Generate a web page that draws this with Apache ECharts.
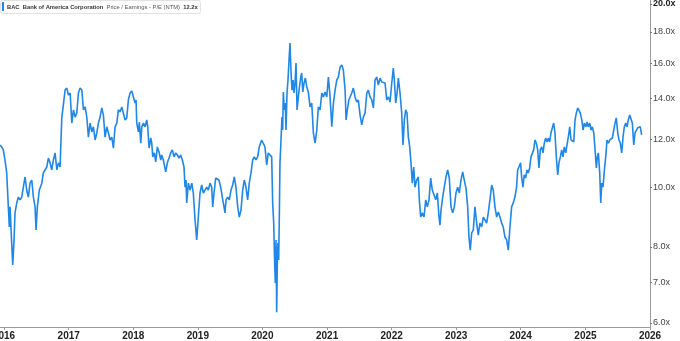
<!DOCTYPE html>
<html>
<head>
<meta charset="utf-8">
<script src="https://cdn.jsdelivr.net/npm/echarts@6/dist/echarts.min.js"></script>
<style>html,body{margin:0;padding:0;background:#fff}#c{width:680px;height:341px}</style>
</head>
<body>
<div id="c"></div>
<script>
// Fractional-year positions of each observation
const years = [
2015.938,2015.964,2015.989,2016.015,2016.042,2016.067,2016.082,2016.093,2016.119,2016.135,2016.155,2016.170,2016.197,2016.221,2016.248,2016.274,2016.299,2016.325,2016.351,2016.376,2016.402,2016.429,2016.454,2016.480,2016.495,2016.515,2016.546,2016.584,2016.608,2016.661,2016.686,2016.712,2016.738,2016.763,2016.789,2016.816,2016.841,2016.867,2016.882,2016.893,2016.918,2016.944,2016.971,2016.995,
2017.022,2017.048,2017.073,2017.099,2017.125,2017.150,2017.176,2017.203,2017.228,2017.254,2017.280,2017.305,2017.331,2017.358,2017.382,2017.409,2017.435,2017.460,2017.486,2017.512,2017.537,2017.563,2017.590,2017.615,2017.641,2017.667,2017.692,2017.718,2017.745,2017.769,2017.796,2017.822,2017.847,2017.873,2017.899,2017.924,2017.950,2017.977,
2018.002,2018.028,2018.043,2018.054,2018.079,2018.094,2018.116,2018.132,2018.156,2018.183,2018.209,2018.224,2018.245,2018.271,2018.286,2018.302,2018.327,2018.348,2018.373,2018.399,2018.426,2018.441,2018.466,2018.503,2018.528,2018.554,2018.580,2018.605,2018.632,2018.658,2018.683,2018.709,2018.735,2018.760,2018.786,2018.802,2018.817,2018.828,2018.853,2018.879,2018.906,2018.930,2018.957,2018.983,
2019.008,2019.034,2019.060,2019.085,2019.111,2019.138,2019.163,2019.189,2019.215,2019.231,2019.251,2019.277,2019.302,2019.328,2019.354,2019.379,2019.406,2019.421,2019.437,2019.463,2019.488,2019.514,2019.540,2019.565,2019.591,2019.618,2019.642,2019.669,2019.695,2019.720,2019.746,2019.772,2019.797,2019.824,2019.850,2019.875,2019.901,2019.927,2019.952,2019.989,
2020.014,2020.040,2020.067,2020.091,2020.118,2020.144,2020.159,2020.175,2020.190,2020.200,2020.211,2020.221,2020.231,2020.241,2020.252,2020.262,2020.272,2020.288,2020.303,2020.314,2020.324,2020.339,2020.354,2020.365,2020.381,2020.396,2020.412,2020.427,2020.443,2020.458,2020.474,2020.489,2020.505,2020.520,2020.536,2020.556,2020.571,2020.593,2020.608,2020.624,2020.644,2020.664,2020.686,2020.710,2020.737,2020.763,2020.788,2020.814,2020.841,2020.865,2020.892,2020.918,2020.943,2020.969,2020.995,
2021.020,2021.046,2021.073,2021.098,2021.124,2021.150,2021.175,2021.201,2021.228,2021.252,2021.279,2021.294,2021.314,2021.336,2021.356,2021.382,2021.407,2021.433,2021.460,2021.484,2021.511,2021.537,2021.562,2021.588,2021.615,2021.639,2021.666,2021.692,2021.717,2021.743,2021.769,2021.794,2021.820,2021.847,2021.871,2021.898,2021.924,2021.949,2021.975,
2022.002,2022.026,2022.042,2022.063,2022.084,2022.104,2022.130,2022.156,2022.176,2022.197,2022.218,2022.238,2022.259,2022.280,2022.300,2022.320,2022.342,2022.362,2022.388,2022.413,2022.429,2022.450,2022.475,2022.502,2022.528,2022.553,2022.579,2022.605,2022.630,2022.656,2022.683,2022.708,2022.734,2022.749,2022.765,2022.791,2022.816,2022.842,2022.868,2022.893,2022.920,2022.946,2022.971,2022.997,
2023.023,2023.048,2023.074,2023.101,2023.125,2023.152,2023.178,2023.198,2023.218,2023.240,2023.265,2023.291,2023.317,2023.342,2023.368,2023.395,2023.420,2023.446,2023.472,2023.497,2023.523,2023.550,2023.574,2023.601,2023.627,2023.652,2023.678,2023.704,2023.729,2023.755,2023.782,2023.807,2023.833,2023.859,2023.884,2023.910,2023.936,2023.952,2023.972,2023.998,
2024.014,2024.034,2024.054,2024.076,2024.096,2024.116,2024.138,2024.158,2024.178,2024.200,2024.220,2024.240,2024.262,2024.282,2024.302,2024.324,2024.344,2024.364,2024.385,2024.406,2024.426,2024.447,2024.467,2024.488,2024.509,2024.529,2024.550,2024.571,2024.591,2024.612,2024.633,2024.653,2024.673,2024.695,2024.715,2024.735,2024.757,2024.777,2024.797,2024.819,2024.839,2024.859,2024.881,2024.901,2024.921,2024.943,2024.963,2024.983,
2025.005,2025.025,2025.045,2025.067,2025.087,2025.107,2025.129,2025.149,2025.169,2025.184,2025.200,2025.221,2025.237,2025.252,2025.272,2025.293,2025.314,2025.334,2025.355,2025.376,2025.396,2025.416,2025.438,2025.458,2025.478,2025.500,2025.520,2025.540,2025.562,2025.582,2025.602,2025.624,2025.644,2025.664,2025.686,2025.706,2025.726,2025.748,2025.768,2025.788,2025.810,2025.830,2025.850,2025.870
];
// Price / Earnings - P/E (NTM)
const pe = [
11.75,11.66,11.53,11.10,10.57,9.30,8.62,9.30,8.11,7.47,8.21,9.09,9.44,9.65,9.55,9.65,10.02,10.41,9.91,9.65,10.17,10.29,9.65,9.30,8.52,9.30,9.91,10.17,10.57,10.81,11.18,10.98,10.69,11.10,11.40,10.69,10.98,10.81,12.10,13.01,13.05,14.45,14.56,14.18,
14.29,12.76,13.41,13.05,13.25,14.29,14.56,14.45,13.41,13.56,13.05,12.10,12.76,12.34,12.58,11.97,12.29,12.76,13.05,13.51,13.15,12.10,12.58,12.29,11.97,12.10,11.61,12.58,12.76,13.41,13.30,13.56,13.51,12.91,13.01,13.92,14.29,14.40,
14.35,13.76,13.92,12.76,12.34,12.81,11.83,12.58,12.76,12.58,12.91,12.58,11.61,12.06,11.83,11.23,11.40,11.02,11.66,11.44,11.10,11.31,11.10,10.61,10.98,11.18,11.40,11.53,11.23,11.40,11.31,11.18,11.31,11.10,10.81,10.02,10.29,9.44,10.17,9.91,10.17,9.80,8.85,8.21,
8.95,9.80,10.10,9.80,9.84,10.02,9.91,10.17,10.02,9.30,9.80,10.37,10.41,10.29,10.02,9.65,9.30,9.09,9.55,9.65,9.55,9.91,10.10,10.41,10.02,9.30,8.95,9.19,9.91,10.29,10.02,9.55,10.17,10.57,11.10,11.23,11.10,11.23,11.66,11.97,
12.06,11.66,10.89,11.40,11.44,11.23,9.44,8.75,7.53,6.98,8.21,6.25,7.53,8.11,7.61,8.95,10.98,11.97,13.05,12.43,14.35,13.41,13.76,12.43,14.29,15.01,16.19,17.26,15.41,14.45,15.01,14.29,14.84,16.00,13.41,14.08,14.56,15.18,15.41,14.35,14.84,15.12,14.62,14.35,13.56,13.76,12.29,11.83,12.43,13.56,13.41,14.29,14.08,14.35,14.08,
15.18,14.08,12.58,13.76,14.45,15.01,15.18,15.76,15.88,15.59,14.45,12.91,13.41,13.92,14.08,14.29,14.56,14.08,13.81,13.92,13.15,12.67,13.05,13.25,14.29,14.45,14.08,13.92,13.51,15.01,15.18,14.73,15.12,14.90,14.90,14.84,13.92,14.08,13.81,
14.84,15.70,15.01,13.76,14.29,15.12,14.29,13.25,11.75,12.91,13.41,13.25,12.10,11.66,10.98,10.17,10.81,10.02,10.29,10.41,9.55,8.95,9.09,8.95,9.55,9.30,9.55,10.37,9.91,9.91,9.55,9.80,8.95,8.68,9.19,9.65,10.02,10.41,10.69,10.37,9.30,9.09,9.30,9.80,
10.02,9.80,10.29,10.61,10.29,9.98,9.30,8.30,7.90,8.43,8.52,9.30,8.75,8.36,8.75,8.62,8.95,8.85,8.75,9.09,9.55,10.10,9.91,9.30,8.95,9.12,8.95,8.75,8.62,8.30,8.21,7.90,8.62,9.30,9.44,9.65,10.02,10.69,10.77,10.98,
10.41,10.02,10.49,10.37,10.69,10.57,10.77,11.23,11.18,11.53,11.97,11.83,11.53,10.77,11.53,11.66,11.40,11.83,12.06,11.88,12.06,11.88,12.29,12.53,12.76,12.29,11.23,10.49,10.98,11.23,11.53,11.23,11.66,11.40,11.75,12.10,12.58,11.97,12.06,11.88,12.91,13.25,13.51,13.56,13.25,12.91,12.43,12.76,
12.58,12.81,12.58,12.76,12.43,12.58,12.29,11.53,10.77,11.23,11.40,10.57,9.44,10.17,10.02,10.69,11.23,11.97,11.83,11.97,11.88,12.06,11.97,12.76,13.01,12.29,11.97,11.83,11.40,12.10,12.58,12.76,12.58,12.91,13.15,13.15,12.76,11.75,12.29,12.29,12.53,12.58,12.58,12.20
];
const yTickValues = [6, 7, 8, 10, 12, 14, 16, 18, 20];
const xStart = 2015.938, xEnd = 2026.0;
const yMin = 5.91, yMax = 20.3;
const lastValue = 12.2;

function yt(y) {
  const yr = Math.floor(y);
  const s = Date.UTC(yr, 0, 1), e = Date.UTC(yr + 1, 0, 1);
  return s + (y - yr) * (e - s);
}
const seriesData = years.map((y, i) => [yt(y), pe[i]]);

const chart = echarts.init(document.getElementById('c'), null, { renderer: 'canvas' });
const YEAR = 365 * 86400000;
chart.setOption({
  useUTC: true,
  animation: false,
  backgroundColor: '#fff',
  textStyle: { fontFamily: 'Liberation Sans, Arial, sans-serif' },
  grid: { left: 0, right: 30, top: 0, bottom: 14, containLabel: false, outerBoundsMode: 'none' },
  xAxis: {
    type: 'time',
    min: yt(xStart),
    max: yt(xEnd),
    splitNumber: 10,
    minInterval: YEAR,
    maxInterval: YEAR + 86400000,
    axisLine: { show: true, lineStyle: { color: '#9a9a9a', width: 1 } },
    axisTick: { show: true, length: 3, lineStyle: { color: '#9a9a9a' } },
    splitLine: { show: false },
    axisLabel: {
      formatter: function (v) { return String(new Date(v).getUTCFullYear()); },
      fontSize: 10, fontWeight: 'bold', color: '#222', margin: 4,
      showMaxLabel: true
    }
  },
  yAxis: {
    type: 'log',
    logBase: 10,
    position: 'right',
    min: yMin,
    max: yMax,
    axisLine: { show: true, lineStyle: { color: '#9a9a9a', width: 1 } },
    axisTick: { show: true, length: 2, inside: false, customValues: yTickValues, lineStyle: { color: '#777' } },
    splitLine: { show: false },
    axisLabel: {
      customValues: yTickValues,
      formatter: function (v) { return v === 20 ? '{b|20.0x}' : v.toFixed(1) + 'x'; },
      rich: { b: { fontWeight: 'bold', fontSize: 9, color: '#222' } },
      fontSize: 9, color: '#444', margin: 3
    }
  },
  graphic: [
    { type: 'rect', left: 0, top: 0, shape: { width: 200, height: 13, r: 2 },
      style: { fill: '#fff', stroke: '#e2e2e2', lineWidth: 1 }, z: 10 },
    { type: 'rect', left: 2, top: 2, shape: { width: 2, height: 9 },
      style: { fill: '#1f87e8' }, z: 11 },
    { type: 'text', left: 7, top: 4, z: 11,
      style: {
        text: '{a|BAC}  {a|Bank of America Corporation}  {c|Price / Earnings - P/E (NTM)}  {a|12.2x}',
        rich: {
          a: { fontSize: 5.8, fontWeight: 'bold', fill: '#333', fontFamily: 'Liberation Sans, Arial, sans-serif' },
          c: { fontSize: 5.8, fill: '#555', fontFamily: 'Liberation Sans, Arial, sans-serif' }
        },
        fontSize: 5.8
      }
    }
  ],
  series: [{
    type: 'line',
    data: seriesData,
    showSymbol: false,
    symbol: 'none',
    lineStyle: { color: '#1f87e8', width: 1.6 },
    itemStyle: { color: '#1f87e8' },
    markLine: {
      silent: true,
      symbol: 'none',
      lineStyle: { opacity: 0 },
      data: [{ yAxis: lastValue }],
      label: {
        position: 'end', distance: 1,
        formatter: lastValue.toFixed(1) + 'x',
        backgroundColor: '#2a8ae8', color: '#fff', fontWeight: 'bold', fontSize: 10,
        padding: [2, 3, 1, 2]
      }
    }
  }]
});
</script>
</body>
</html>
